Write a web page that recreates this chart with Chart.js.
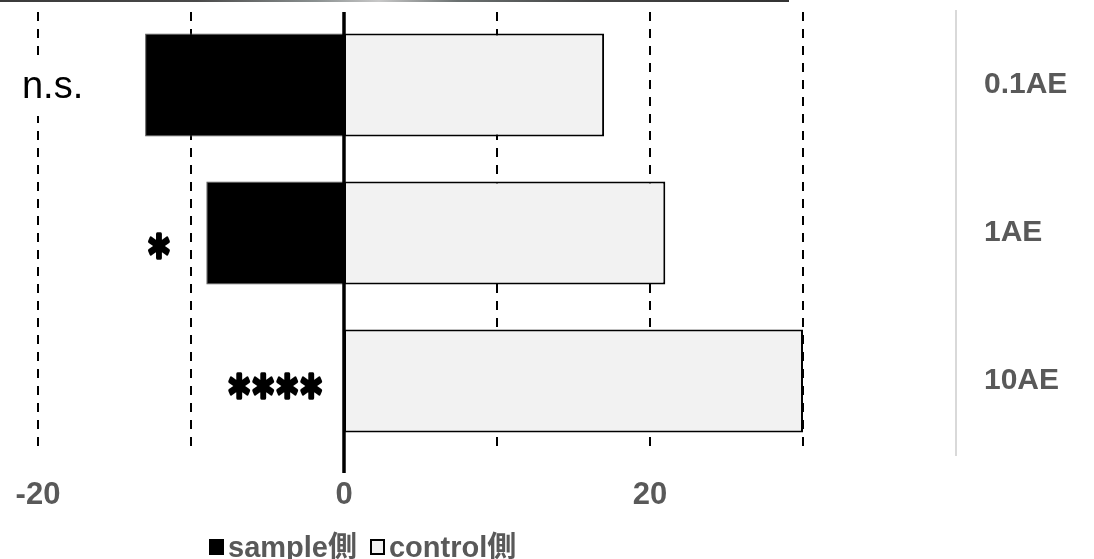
<!DOCTYPE html>
<html><head><meta charset="utf-8">
<script src="https://cdn.jsdelivr.net/npm/chart.js@4"></script>
<style>
html,body{margin:0;padding:0;background:#fff;}
#wrap{position:relative;width:1094px;height:559px;overflow:hidden;}
#strip{position:absolute;left:0;top:0;width:789px;height:2px;background:linear-gradient(90deg,#3a3a3a 0%,#4a4a4a 25%,#8a9090 40%,#c8c8c8 48%,#6a7070 58%,#444 75%,#333 100%);}
#legend{position:absolute;left:209px;top:533px;font:bold 29px/28px "Liberation Sans",Arial,"Noto Sans CJK JP",sans-serif;color:#595959;white-space:nowrap;display:flex;align-items:center;}
.sw{display:inline-block;width:15px;height:16px;margin-right:4px;box-sizing:border-box;}
.item{display:flex;align-items:center;margin-right:13px;}
</style></head>
<body><div id="wrap"><canvas id="c" width="1094" height="559"></canvas><div id="strip"></div><div id="legend"></div></div>
<script>
const categories = ['0.1AE', '1AE', '10AE'];
const sampleValues = [-13, -9, 0];
const controlValues = [17, 21, 30];
const seriesNames = ['sample側', 'control側'];
const sigLabels = ['n.s.', '*', '****'];
const xTickLabels = [-20, 0, 20];

const FONT = '"Liberation Sans", Arial, "Noto Sans CJK JP", sans-serif';
const STAR_FONT = '"DejaVu Sans", "Liberation Sans", sans-serif';

// legend
const legendEl = document.getElementById('legend');
const swStyles = ['background:#000;border:1px solid #000;', 'background:#f2f2f2;border:2px solid #000;'];
seriesNames.forEach((n, i) => {
  const it = document.createElement('span');
  it.className = 'item';
  it.innerHTML = '<span class="sw" style="' + swStyles[i] + '"></span>' + n;
  legendEl.appendChild(it);
});

const gridPlugin = {
  id: 'gridPlugin',
  beforeDatasetsDraw(chart) {
    const {ctx, chartArea, scales: {x}} = chart;
    ctx.save();
    ctx.strokeStyle = '#000';
    ctx.lineWidth = 2;
    ctx.setLineDash([9, 8]);
    x.ticks.forEach(t => {
      if (t.value === 0 || t.value >= x.max) return;
      const px = Math.round(x.getPixelForValue(t.value));
      ctx.beginPath();
      ctx.moveTo(px, chartArea.top + 1);
      ctx.lineTo(px, chartArea.bottom - 2);
      ctx.stroke();
    });
    ctx.restore();
  },
  afterDatasetsDraw(chart) {
    const {ctx, chartArea, scales: {x, y}} = chart;
    ctx.save();
    const px = x.getPixelForValue(0);
    ctx.strokeStyle = '#000';
    ctx.lineWidth = 3.5;
    ctx.beginPath();
    ctx.moveTo(px, chartArea.top + 1);
    ctx.lineTo(px, chartArea.bottom + 18);
    ctx.stroke();

    // significance labels
    const anchors = [
      {v: -21.05, dy: 13, mode: 'text'},
      {v: -12.1, dy: 12, mode: 'stars'},
      {v: -4.5, dy: 4, mode: 'stars'}
    ];
    ctx.textBaseline = 'alphabetic';
    sigLabels.forEach((s, i) => {
      const a = anchors[i];
      const cx = x.getPixelForValue(a.v);
      const cy = y.getPixelForValue(i) + a.dy;
      if (a.mode === 'text') {
        ctx.font = '38px ' + FONT;
        ctx.textAlign = 'left';
        const m = ctx.measureText(s);
        ctx.fillStyle = '#fff';
        ctx.fillRect(cx - 4, cy - 40, m.width + 8, 58);
        ctx.fillStyle = '#000';
        ctx.fillText(s, cx, cy);
      } else {
        ctx.fillStyle = '#000';
        ctx.strokeStyle = '#000';
        ctx.lineWidth = 2.6;
        ctx.lineJoin = 'round';
        ctx.font = 'bold 40px ' + STAR_FONT;
        ctx.textAlign = 'center';
        const step = 24;
        const chars = s.split('');
        const m = ctx.measureText('*');
        const off = (m.actualBoundingBoxAscent - m.actualBoundingBoxDescent) / 2;
        chars.forEach((c, k) => {
          const sx = cx + (k - (chars.length - 1) / 2) * step;
          ctx.save();
          ctx.translate(sx, cy);
          ctx.scale(1, 1.3);
          ctx.fillText(c, 0, off);
          ctx.strokeText(c, 0, off);
          ctx.restore();
        });
      }
    });
    ctx.restore();
  }
};

new Chart(document.getElementById('c'), {
  type: 'bar',
  data: {
    labels: categories,
    datasets: [
      {label: seriesNames[0], data: sampleValues, backgroundColor: '#000', borderColor: '#595959', borderWidth: 1, borderSkipped: false},
      {label: seriesNames[1], data: controlValues, backgroundColor: '#f2f2f2', borderColor: '#000', borderWidth: 2, borderSkipped: false}
    ]
  },
  options: {
    indexAxis: 'y',
    responsive: false,
    animation: false,
    devicePixelRatio: 1,
    categoryPercentage: 0.8,
    barPercentage: 0.87,
    layout: {padding: {left: 38, top: 11, right: 0, bottom: 0}},
    plugins: {legend: {display: false}, tooltip: {enabled: false}},
    scales: {
      x: {
        type: 'linear', min: -20, max: 40, stacked: true, position: 'bottom',
        afterFit: s => { s.height = 104; s.paddingLeft = 0; s.paddingRight = 0; s.paddingTop = 0; s.paddingBottom = 0; },
        grid: {display: false, drawTicks: false},
        border: {display: false},
        ticks: {
          stepSize: 10, autoSkip: false, maxRotation: 0, padding: 22,
          color: '#595959', font: {family: FONT, size: 31, weight: 'bold'},
          callback: v => xTickLabels.includes(v) ? String(v) : ''
        }
      },
      y: {
        type: 'category', stacked: true, position: 'right',
        afterFit: s => { s.width = 138; s.paddingTop = 0; s.paddingBottom = 0; s.paddingLeft = 0; s.paddingRight = 0; },
        grid: {display: false, drawTicks: false},
        border: {display: true, color: '#d9d9d9', width: 2},
        ticks: {padding: 28, color: '#595959', font: {family: FONT, size: 30, weight: 'bold'}}
      }
    }
  },
  plugins: [gridPlugin]
});
</script>
</body></html>
